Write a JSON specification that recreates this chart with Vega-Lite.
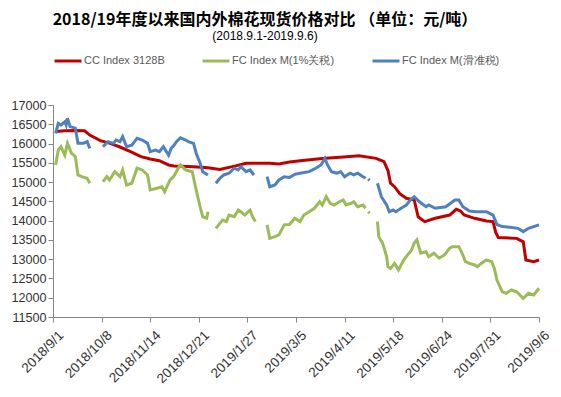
{
"$schema": "https://vega.github.io/schema/vega-lite/v6.json",
"width": 486, "height": 212,
"autosize": "none",
"padding": {"left": 53, "top": 105, "right": 22, "bottom": 80},
"background": "white",
"title": {"text": "2018/19年度以来国内外棉花现货价格对比  （单位：元/吨）", "subtitle": "(2018.9.1-2019.9.6)", "font": "Noto Sans CJK SC", "fontSize": 16, "fontWeight": "bold", "color": "#000000", "subtitleFont": "Liberation Sans", "subtitleFontSize": 12, "subtitleColor": "#000000", "anchor": "middle", "offset": 4, "dx": -31, "subtitlePadding": 3},
"data": {"values": [
{"date":"2018/9/3","s":"CC Index 3128B","v":16310},
{"date":"2018/9/10","s":"CC Index 3128B","v":16330},
{"date":"2018/9/18","s":"CC Index 3128B","v":16340},
{"date":"2018/9/25","s":"CC Index 3128B","v":16330},
{"date":"2018/9/29","s":"CC Index 3128B","v":16220},
{"date":"2018/10/7","s":"CC Index 3128B","v":16075},
{"date":"2018/10/14","s":"CC Index 3128B","v":16010},
{"date":"2018/10/22","s":"CC Index 3128B","v":15910},
{"date":"2018/10/30","s":"CC Index 3128B","v":15790},
{"date":"2018/11/7","s":"CC Index 3128B","v":15660},
{"date":"2018/11/14","s":"CC Index 3128B","v":15600},
{"date":"2018/11/21","s":"CC Index 3128B","v":15555},
{"date":"2018/11/28","s":"CC Index 3128B","v":15445},
{"date":"2018/12/2","s":"CC Index 3128B","v":15420},
{"date":"2018/12/17","s":"CC Index 3128B","v":15400},
{"date":"2018/12/28","s":"CC Index 3128B","v":15370},
{"date":"2019/1/6","s":"CC Index 3128B","v":15330},
{"date":"2019/1/18","s":"CC Index 3128B","v":15420},
{"date":"2019/1/26","s":"CC Index 3128B","v":15490},
{"date":"2019/2/13","s":"CC Index 3128B","v":15490},
{"date":"2019/2/20","s":"CC Index 3128B","v":15470},
{"date":"2019/2/28","s":"CC Index 3128B","v":15520},
{"date":"2019/3/10","s":"CC Index 3128B","v":15560},
{"date":"2019/3/25","s":"CC Index 3128B","v":15615},
{"date":"2019/4/10","s":"CC Index 3128B","v":15650},
{"date":"2019/4/22","s":"CC Index 3128B","v":15685},
{"date":"2019/5/5","s":"CC Index 3128B","v":15615},
{"date":"2019/5/11","s":"CC Index 3128B","v":15530},
{"date":"2019/5/14","s":"CC Index 3128B","v":15300},
{"date":"2019/5/16","s":"CC Index 3128B","v":14970},
{"date":"2019/5/19","s":"CC Index 3128B","v":14880},
{"date":"2019/5/23","s":"CC Index 3128B","v":14700},
{"date":"2019/5/28","s":"CC Index 3128B","v":14580},
{"date":"2019/6/3","s":"CC Index 3128B","v":14535},
{"date":"2019/6/6","s":"CC Index 3128B","v":14100},
{"date":"2019/6/11","s":"CC Index 3128B","v":13975},
{"date":"2019/6/19","s":"CC Index 3128B","v":14060},
{"date":"2019/6/30","s":"CC Index 3128B","v":14145},
{"date":"2019/7/5","s":"CC Index 3128B","v":14295},
{"date":"2019/7/8","s":"CC Index 3128B","v":14255},
{"date":"2019/7/11","s":"CC Index 3128B","v":14145},
{"date":"2019/7/19","s":"CC Index 3128B","v":14060},
{"date":"2019/7/28","s":"CC Index 3128B","v":13990},
{"date":"2019/8/2","s":"CC Index 3128B","v":13975},
{"date":"2019/8/4","s":"CC Index 3128B","v":13700},
{"date":"2019/8/6","s":"CC Index 3128B","v":13560},
{"date":"2019/8/20","s":"CC Index 3128B","v":13540},
{"date":"2019/8/25","s":"CC Index 3128B","v":13450},
{"date":"2019/8/27","s":"CC Index 3128B","v":12980},
{"date":"2019/9/2","s":"CC Index 3128B","v":12935},
{"date":"2019/9/6","s":"CC Index 3128B","v":12980},
{"date":"2018/9/3","s":"FC Index M(1%关税)","v":15445},
{"date":"2018/9/5","s":"FC Index M(1%关税)","v":15830},
{"date":"2018/9/7","s":"FC Index M(1%关税)","v":15920},
{"date":"2018/9/10","s":"FC Index M(1%关税)","v":15700},
{"date":"2018/9/12","s":"FC Index M(1%关税)","v":16005},
{"date":"2018/9/15","s":"FC Index M(1%关税)","v":15750},
{"date":"2018/9/18","s":"FC Index M(1%关税)","v":15660},
{"date":"2018/9/20","s":"FC Index M(1%关税)","v":15185},
{"date":"2018/9/23","s":"FC Index M(1%关税)","v":15140},
{"date":"2018/9/27","s":"FC Index M(1%关税)","v":15100},
{"date":"2018/9/29","s":"FC Index M(1%关税)","v":14970},
{"date":"2018/10/3","s":"FC Index M(1%关税)","v":null},
{"date":"2018/10/9","s":"FC Index M(1%关税)","v":15010},
{"date":"2018/10/12","s":"FC Index M(1%关税)","v":15140},
{"date":"2018/10/14","s":"FC Index M(1%关税)","v":15055},
{"date":"2018/10/18","s":"FC Index M(1%关税)","v":15270},
{"date":"2018/10/22","s":"FC Index M(1%关税)","v":15140},
{"date":"2018/10/24","s":"FC Index M(1%关税)","v":15315},
{"date":"2018/10/27","s":"FC Index M(1%关税)","v":14925},
{"date":"2018/10/31","s":"FC Index M(1%关税)","v":14970},
{"date":"2018/11/4","s":"FC Index M(1%关税)","v":15360},
{"date":"2018/11/8","s":"FC Index M(1%关税)","v":15315},
{"date":"2018/11/12","s":"FC Index M(1%关税)","v":15185},
{"date":"2018/11/14","s":"FC Index M(1%关税)","v":14795},
{"date":"2018/11/19","s":"FC Index M(1%关税)","v":14840},
{"date":"2018/11/23","s":"FC Index M(1%关税)","v":14880},
{"date":"2018/11/25","s":"FC Index M(1%关税)","v":14750},
{"date":"2018/11/29","s":"FC Index M(1%关税)","v":15050},
{"date":"2018/12/2","s":"FC Index M(1%关税)","v":15150},
{"date":"2018/12/6","s":"FC Index M(1%关税)","v":15400},
{"date":"2018/12/7","s":"FC Index M(1%关税)","v":15445},
{"date":"2018/12/11","s":"FC Index M(1%关税)","v":15315},
{"date":"2018/12/16","s":"FC Index M(1%关税)","v":15270},
{"date":"2018/12/19","s":"FC Index M(1%关税)","v":14795},
{"date":"2018/12/22","s":"FC Index M(1%关税)","v":14360},
{"date":"2018/12/24","s":"FC Index M(1%关税)","v":14100},
{"date":"2018/12/27","s":"FC Index M(1%关税)","v":14060},
{"date":"2018/12/28","s":"FC Index M(1%关税)","v":14230},
{"date":"2018/12/31","s":"FC Index M(1%关税)","v":null},
{"date":"2019/1/3","s":"FC Index M(1%关税)","v":13800},
{"date":"2019/1/6","s":"FC Index M(1%关税)","v":13930},
{"date":"2019/1/8","s":"FC Index M(1%关税)","v":14015},
{"date":"2019/1/11","s":"FC Index M(1%关税)","v":13975},
{"date":"2019/1/13","s":"FC Index M(1%关税)","v":14145},
{"date":"2019/1/17","s":"FC Index M(1%关税)","v":14100},
{"date":"2019/1/20","s":"FC Index M(1%关税)","v":14275},
{"date":"2019/1/22","s":"FC Index M(1%关税)","v":14230},
{"date":"2019/1/25","s":"FC Index M(1%关税)","v":14145},
{"date":"2019/1/29","s":"FC Index M(1%关税)","v":14275},
{"date":"2019/1/31","s":"FC Index M(1%关税)","v":14100},
{"date":"2019/2/2","s":"FC Index M(1%关税)","v":13975},
{"date":"2019/2/6","s":"FC Index M(1%关税)","v":null},
{"date":"2019/2/11","s":"FC Index M(1%关税)","v":13890},
{"date":"2019/2/13","s":"FC Index M(1%关税)","v":13540},
{"date":"2019/2/17","s":"FC Index M(1%关税)","v":13585},
{"date":"2019/2/20","s":"FC Index M(1%关税)","v":13630},
{"date":"2019/2/24","s":"FC Index M(1%关税)","v":13890},
{"date":"2019/2/28","s":"FC Index M(1%关税)","v":13900},
{"date":"2019/3/4","s":"FC Index M(1%关税)","v":14060},
{"date":"2019/3/8","s":"FC Index M(1%关税)","v":13975},
{"date":"2019/3/11","s":"FC Index M(1%关税)","v":14145},
{"date":"2019/3/15","s":"FC Index M(1%关税)","v":14230},
{"date":"2019/3/19","s":"FC Index M(1%关税)","v":14320},
{"date":"2019/3/23","s":"FC Index M(1%关税)","v":14490},
{"date":"2019/3/25","s":"FC Index M(1%关税)","v":14405},
{"date":"2019/3/28","s":"FC Index M(1%关税)","v":14620},
{"date":"2019/3/31","s":"FC Index M(1%关税)","v":14450},
{"date":"2019/4/3","s":"FC Index M(1%关税)","v":14405},
{"date":"2019/4/7","s":"FC Index M(1%关税)","v":14490},
{"date":"2019/4/10","s":"FC Index M(1%关税)","v":14535},
{"date":"2019/4/12","s":"FC Index M(1%关税)","v":14405},
{"date":"2019/4/16","s":"FC Index M(1%关税)","v":14450},
{"date":"2019/4/18","s":"FC Index M(1%关税)","v":14490},
{"date":"2019/4/21","s":"FC Index M(1%关税)","v":14360},
{"date":"2019/4/25","s":"FC Index M(1%关税)","v":14405},
{"date":"2019/4/27","s":"FC Index M(1%关税)","v":14320},
{"date":"2019/4/28","s":"FC Index M(1%关税)","v":null},
{"date":"2019/4/29","s":"FC Index M(1%关税)","v":14230},
{"date":"2019/4/30","s":"FC Index M(1%关税)","v":14190},
{"date":"2019/5/2","s":"FC Index M(1%关税)","v":null},
{"date":"2019/5/6","s":"FC Index M(1%关税)","v":13975},
{"date":"2019/5/7","s":"FC Index M(1%关税)","v":13585},
{"date":"2019/5/10","s":"FC Index M(1%关税)","v":13410},
{"date":"2019/5/13","s":"FC Index M(1%关税)","v":13065},
{"date":"2019/5/14","s":"FC Index M(1%关税)","v":12805},
{"date":"2019/5/16","s":"FC Index M(1%关税)","v":12760},
{"date":"2019/5/19","s":"FC Index M(1%关税)","v":12890},
{"date":"2019/5/22","s":"FC Index M(1%关税)","v":12720},
{"date":"2019/5/26","s":"FC Index M(1%关税)","v":12980},
{"date":"2019/5/29","s":"FC Index M(1%关税)","v":13110},
{"date":"2019/6/1","s":"FC Index M(1%关税)","v":13240},
{"date":"2019/6/3","s":"FC Index M(1%关税)","v":13420},
{"date":"2019/6/5","s":"FC Index M(1%关税)","v":13500},
{"date":"2019/6/8","s":"FC Index M(1%关税)","v":13155},
{"date":"2019/6/12","s":"FC Index M(1%关税)","v":13195},
{"date":"2019/6/14","s":"FC Index M(1%关税)","v":13065},
{"date":"2019/6/18","s":"FC Index M(1%关税)","v":13155},
{"date":"2019/6/22","s":"FC Index M(1%关税)","v":13025},
{"date":"2019/6/26","s":"FC Index M(1%关税)","v":13110},
{"date":"2019/6/30","s":"FC Index M(1%关税)","v":13285},
{"date":"2019/7/2","s":"FC Index M(1%关税)","v":13325},
{"date":"2019/7/7","s":"FC Index M(1%关税)","v":13325},
{"date":"2019/7/10","s":"FC Index M(1%关税)","v":13110},
{"date":"2019/7/12","s":"FC Index M(1%关税)","v":12935},
{"date":"2019/7/15","s":"FC Index M(1%关税)","v":12890},
{"date":"2019/7/19","s":"FC Index M(1%关税)","v":12850},
{"date":"2019/7/21","s":"FC Index M(1%关税)","v":12805},
{"date":"2019/7/24","s":"FC Index M(1%关税)","v":12890},
{"date":"2019/7/28","s":"FC Index M(1%关税)","v":12980},
{"date":"2019/8/1","s":"FC Index M(1%关税)","v":12935},
{"date":"2019/8/3","s":"FC Index M(1%关税)","v":12760},
{"date":"2019/8/5","s":"FC Index M(1%关税)","v":12460},
{"date":"2019/8/9","s":"FC Index M(1%关税)","v":12155},
{"date":"2019/8/12","s":"FC Index M(1%关税)","v":12115},
{"date":"2019/8/16","s":"FC Index M(1%关税)","v":12200},
{"date":"2019/8/20","s":"FC Index M(1%关税)","v":12155},
{"date":"2019/8/25","s":"FC Index M(1%关税)","v":11985},
{"date":"2019/8/29","s":"FC Index M(1%关税)","v":12115},
{"date":"2019/9/2","s":"FC Index M(1%关税)","v":12070},
{"date":"2019/9/6","s":"FC Index M(1%关税)","v":12245},
{"date":"2018/9/3","s":"FC Index M(滑准税)","v":16265},
{"date":"2018/9/5","s":"FC Index M(滑准税)","v":16525},
{"date":"2018/9/7","s":"FC Index M(滑准税)","v":16480},
{"date":"2018/9/10","s":"FC Index M(滑准税)","v":16565},
{"date":"2018/9/11","s":"FC Index M(滑准税)","v":16480},
{"date":"2018/9/12","s":"FC Index M(滑准税)","v":16655},
{"date":"2018/9/14","s":"FC Index M(滑准税)","v":16440},
{"date":"2018/9/18","s":"FC Index M(滑准税)","v":16400},
{"date":"2018/9/20","s":"FC Index M(滑准税)","v":16005},
{"date":"2018/9/24","s":"FC Index M(滑准税)","v":16005},
{"date":"2018/9/27","s":"FC Index M(滑准税)","v":16050},
{"date":"2018/9/29","s":"FC Index M(滑准税)","v":15875},
{"date":"2018/10/3","s":"FC Index M(滑准税)","v":null},
{"date":"2018/10/9","s":"FC Index M(滑准税)","v":15920},
{"date":"2018/10/13","s":"FC Index M(滑准税)","v":16050},
{"date":"2018/10/17","s":"FC Index M(滑准税)","v":16005},
{"date":"2018/10/19","s":"FC Index M(滑准税)","v":16090},
{"date":"2018/10/22","s":"FC Index M(滑准税)","v":16050},
{"date":"2018/10/24","s":"FC Index M(滑准税)","v":16180},
{"date":"2018/10/27","s":"FC Index M(滑准税)","v":15920},
{"date":"2018/10/31","s":"FC Index M(滑准税)","v":15960},
{"date":"2018/11/4","s":"FC Index M(滑准税)","v":16135},
{"date":"2018/11/8","s":"FC Index M(滑准税)","v":16090},
{"date":"2018/11/12","s":"FC Index M(滑准税)","v":16005},
{"date":"2018/11/14","s":"FC Index M(滑准税)","v":15790},
{"date":"2018/11/18","s":"FC Index M(滑准税)","v":15830},
{"date":"2018/11/21","s":"FC Index M(滑准税)","v":15790},
{"date":"2018/11/24","s":"FC Index M(滑准税)","v":15920},
{"date":"2018/11/28","s":"FC Index M(滑准税)","v":15700},
{"date":"2018/11/30","s":"FC Index M(滑准税)","v":15875},
{"date":"2018/12/2","s":"FC Index M(滑准税)","v":15950},
{"date":"2018/12/4","s":"FC Index M(滑准税)","v":16050},
{"date":"2018/12/7","s":"FC Index M(滑准税)","v":16150},
{"date":"2018/12/11","s":"FC Index M(滑准税)","v":16090},
{"date":"2018/12/13","s":"FC Index M(滑准税)","v":16050},
{"date":"2018/12/17","s":"FC Index M(滑准税)","v":16005},
{"date":"2018/12/19","s":"FC Index M(滑准税)","v":15750},
{"date":"2018/12/22","s":"FC Index M(滑准税)","v":15490},
{"date":"2018/12/24","s":"FC Index M(滑准税)","v":15270},
{"date":"2018/12/28","s":"FC Index M(滑准税)","v":15185},
{"date":"2018/12/31","s":"FC Index M(滑准税)","v":null},
{"date":"2019/1/3","s":"FC Index M(滑准税)","v":14970},
{"date":"2019/1/6","s":"FC Index M(滑准税)","v":15100},
{"date":"2019/1/9","s":"FC Index M(滑准税)","v":15185},
{"date":"2019/1/13","s":"FC Index M(滑准税)","v":15230},
{"date":"2019/1/17","s":"FC Index M(滑准税)","v":15360},
{"date":"2019/1/20","s":"FC Index M(滑准税)","v":15315},
{"date":"2019/1/22","s":"FC Index M(滑准税)","v":15400},
{"date":"2019/1/26","s":"FC Index M(滑准税)","v":15270},
{"date":"2019/1/29","s":"FC Index M(滑准税)","v":15315},
{"date":"2019/2/1","s":"FC Index M(滑准税)","v":15185},
{"date":"2019/2/6","s":"FC Index M(滑准税)","v":null},
{"date":"2019/2/11","s":"FC Index M(滑准税)","v":15140},
{"date":"2019/2/13","s":"FC Index M(滑准税)","v":14880},
{"date":"2019/2/17","s":"FC Index M(滑准税)","v":14925},
{"date":"2019/2/20","s":"FC Index M(滑准税)","v":15055},
{"date":"2019/2/24","s":"FC Index M(滑准税)","v":15140},
{"date":"2019/2/28","s":"FC Index M(滑准税)","v":15120},
{"date":"2019/3/4","s":"FC Index M(滑准税)","v":15200},
{"date":"2019/3/8","s":"FC Index M(滑准税)","v":15230},
{"date":"2019/3/15","s":"FC Index M(滑准税)","v":15270},
{"date":"2019/3/20","s":"FC Index M(滑准税)","v":15360},
{"date":"2019/3/24","s":"FC Index M(滑准税)","v":15445},
{"date":"2019/3/27","s":"FC Index M(滑准税)","v":15615},
{"date":"2019/3/29","s":"FC Index M(滑准税)","v":15445},
{"date":"2019/4/1","s":"FC Index M(滑准税)","v":15270},
{"date":"2019/4/5","s":"FC Index M(滑准税)","v":15230},
{"date":"2019/4/8","s":"FC Index M(滑准税)","v":15270},
{"date":"2019/4/11","s":"FC Index M(滑准税)","v":15140},
{"date":"2019/4/15","s":"FC Index M(滑准税)","v":15230},
{"date":"2019/4/18","s":"FC Index M(滑准税)","v":15185},
{"date":"2019/4/21","s":"FC Index M(滑准税)","v":15230},
{"date":"2019/4/25","s":"FC Index M(滑准税)","v":15140},
{"date":"2019/4/27","s":"FC Index M(滑准税)","v":15100},
{"date":"2019/4/28","s":"FC Index M(滑准税)","v":null},
{"date":"2019/4/29","s":"FC Index M(滑准税)","v":15080},
{"date":"2019/4/30","s":"FC Index M(滑准税)","v":15040},
{"date":"2019/5/2","s":"FC Index M(滑准税)","v":null},
{"date":"2019/5/6","s":"FC Index M(滑准税)","v":14970},
{"date":"2019/5/9","s":"FC Index M(滑准税)","v":14620},
{"date":"2019/5/13","s":"FC Index M(滑准税)","v":14405},
{"date":"2019/5/15","s":"FC Index M(滑准税)","v":14230},
{"date":"2019/5/18","s":"FC Index M(滑准税)","v":14275},
{"date":"2019/5/20","s":"FC Index M(滑准税)","v":14230},
{"date":"2019/5/24","s":"FC Index M(滑准税)","v":14320},
{"date":"2019/5/28","s":"FC Index M(滑准税)","v":14405},
{"date":"2019/5/31","s":"FC Index M(滑准税)","v":14535},
{"date":"2019/6/3","s":"FC Index M(滑准税)","v":14620},
{"date":"2019/6/7","s":"FC Index M(滑准税)","v":14490},
{"date":"2019/6/12","s":"FC Index M(滑准税)","v":14360},
{"date":"2019/6/14","s":"FC Index M(滑准税)","v":14405},
{"date":"2019/6/19","s":"FC Index M(滑准税)","v":14320},
{"date":"2019/6/27","s":"FC Index M(滑准税)","v":14360},
{"date":"2019/7/4","s":"FC Index M(滑准税)","v":14535},
{"date":"2019/7/7","s":"FC Index M(滑准税)","v":14535},
{"date":"2019/7/10","s":"FC Index M(滑准税)","v":14360},
{"date":"2019/7/15","s":"FC Index M(滑准税)","v":14250},
{"date":"2019/7/20","s":"FC Index M(滑准税)","v":14230},
{"date":"2019/7/28","s":"FC Index M(滑准税)","v":14230},
{"date":"2019/8/2","s":"FC Index M(滑准税)","v":14145},
{"date":"2019/8/5","s":"FC Index M(滑准税)","v":13900},
{"date":"2019/8/9","s":"FC Index M(滑准税)","v":13845},
{"date":"2019/8/15","s":"FC Index M(滑准税)","v":13830},
{"date":"2019/8/21","s":"FC Index M(滑准税)","v":13800},
{"date":"2019/8/25","s":"FC Index M(滑准税)","v":13715},
{"date":"2019/8/29","s":"FC Index M(滑准税)","v":13800},
{"date":"2019/9/2","s":"FC Index M(滑准税)","v":13845},
{"date":"2019/9/6","s":"FC Index M(滑准税)","v":13890}
]},
"mark": {"type": "line", "strokeWidth": 3, "invalid": "break-paths-filter-domains"},
"encoding": {
"x": {"field": "date", "type": "temporal",
 "scale": {"domain": [{"year": 2018, "month": 9, "date": 1}, {"year": 2019, "month": 9, "date": 6}]},
 "axis": {"title": null, "grid": false,
  "values": [{"year": 2018, "month": 9, "date": 1}, {"year": 2018, "month": 10, "date": 8}, {"year": 2018, "month": 11, "date": 14}, {"year": 2018, "month": 12, "date": 21}, {"year": 2019, "month": 1, "date": 27}, {"year": 2019, "month": 3, "date": 5}, {"year": 2019, "month": 4, "date": 11}, {"year": 2019, "month": 5, "date": 18}, {"year": 2019, "month": 6, "date": 24}, {"year": 2019, "month": 7, "date": 31}, {"year": 2019, "month": 9, "date": 6}],
  "format": "%Y/%-m/%-d", "labelAngle": -45, "labelFont": "Liberation Sans", "labelFontSize": 13.5, "labelColor": "#333333",
  "domainColor": "#868686", "tickColor": "#868686", "tickSize": 5, "labelPadding": 6, "labelOffset": 3, "labelOverlap": false}},
"y": {"field": "v", "type": "quantitative",
 "scale": {"domain": [11500, 17000], "nice": false, "zero": false},
 "axis": {"title": null, "grid": false, "values": [11500, 12000, 12500, 13000, 13500, 14000, 14500, 15000, 15500, 16000, 16500, 17000],
  "format": "d", "labelFont": "Liberation Sans", "labelFontSize": 12.6, "labelColor": "#333333",
  "domainColor": "#868686", "tickColor": "#868686", "tickSize": 5, "labelPadding": 2}},
"color": {"field": "s", "type": "nominal",
 "scale": {"domain": ["CC Index 3128B", "FC Index M(1%关税)", "FC Index M(滑准税)"], "range": ["#C00000", "#9BBB59", "#4F81BD"]},
 "legend": {"orient": "none", "legendX": 0, "legendY": -59, "direction": "horizontal", "title": null, "symbolType": "stroke", "symbolSize": 729, "symbolStrokeWidth": 3, "labelFont": "Liberation Sans", "labelFontSize": 11, "labelColor": "#595959", "columnPadding": 31, "labelOffset": 1}}
},
"config": {"view": {"stroke": null}}
}
